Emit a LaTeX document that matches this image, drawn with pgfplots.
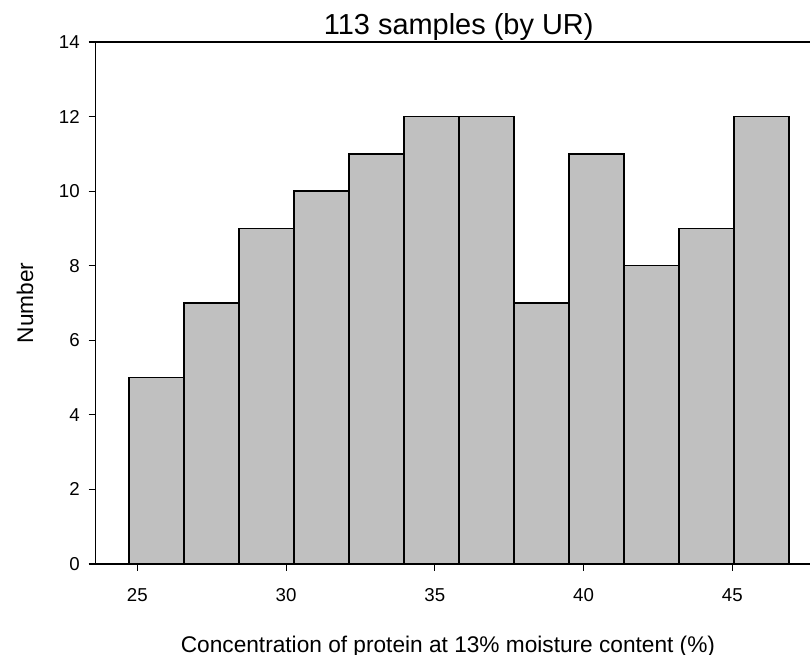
\documentclass[border=0pt]{standalone}
\usepackage{fontspec}
\setmainfont{Liberation Sans}
\usepackage{pgfplots}
\pgfplotsset{compat=1.18}
\begin{document}
\begin{tikzpicture}
\path[use as bounding box] (-71.775pt,-68.25pt) rectangle (535.725pt,423pt);
\begin{axis}[
  scale only axis,
  width=537pt, height=391.5pt,
  xmin=23.60, xmax=47.667,
  ymin=0, ymax=14,
  xtick={25,30,35,40,45},
  ytick={0,2,...,14},
  tick align=outside,
  xtick pos=bottom, ytick pos=left,
  major tick length=5.25pt,
  tick style={black, line width=0.9pt},
  axis line style={black, line width=1.2pt},
  /pgf/number format/assume math mode=true,
  ticklabel style={font=\fontsize{14pt}{16pt}\selectfont},
  yticklabel style={xshift=-3.2pt},
  xticklabel style={yshift=-9.5pt},
  xlabel={Concentration of protein at 13\% moisture content (\%)},
  ylabel={Number},
  every axis x label/.style={at={(axis description cs:0.492,-0.1686)},anchor=base,font=\fontsize{17pt}{20pt}\selectfont},
  every axis y label/.style={at={(axis description cs:-0.0987,0.5)},rotate=90,anchor=center,font=\fontsize{17pt}{20pt}\selectfont},
  title={113 samples (by UR)},
  every axis title/.style={at={(axis description cs:0.507,1.0134)},anchor=base,font=\fontsize{21.7pt}{25pt}\selectfont},
]
\addplot[ybar interval, fill={rgb,255:red,192;green,192;blue,192}, draw=black, line width=1.1pt]
coordinates {
(24.720,5) (26.568,7) (28.416,9) (30.264,10) (32.112,11) (33.960,12)
(35.808,12) (37.656,7) (39.504,11) (41.352,8) (43.200,9) (45.048,12)
(46.896,12)
};
\end{axis}
\end{tikzpicture}
\end{document}
